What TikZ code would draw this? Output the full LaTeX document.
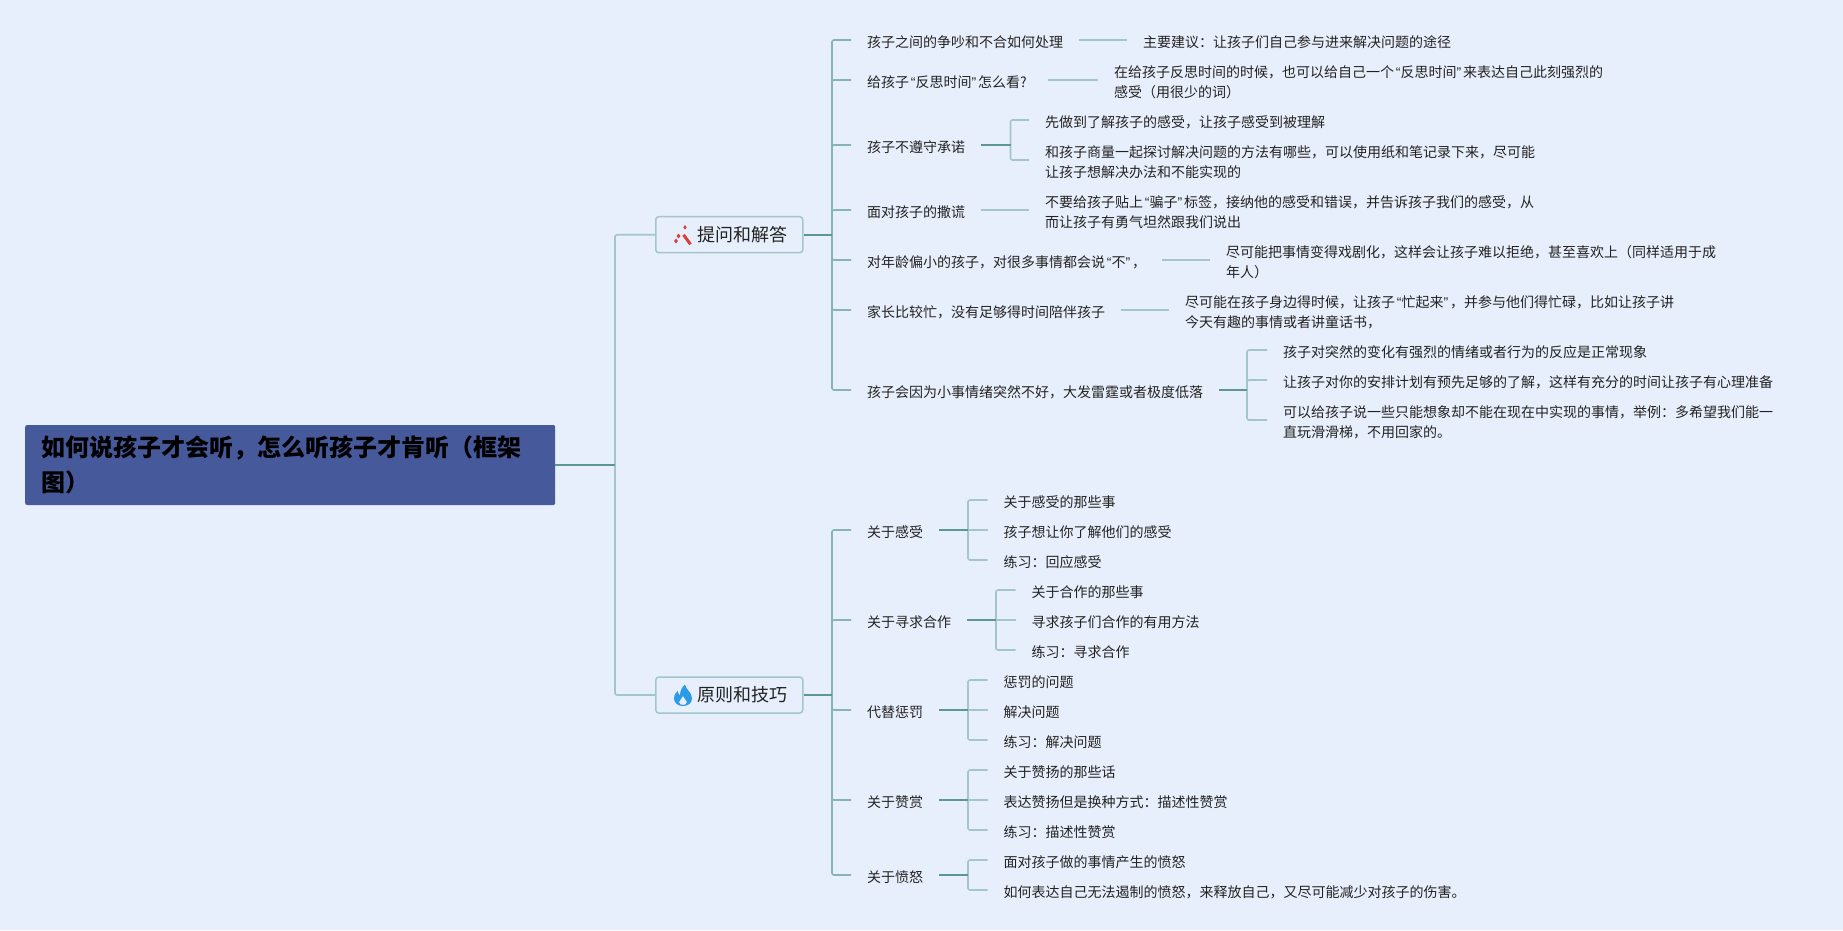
\documentclass[tikz,border=0pt]{standalone}
\usepackage{fontspec}
\setmainfont{Noto Sans CJK SC}
\newfontfamily\quotefont{Liberation Sans}
\newcommand{\opq}{\kern1.75pt{\quotefont “}}
\newcommand{\clq}{{\quotefont ”}\kern1.75pt}
\usepackage{xcolor}
\definecolor{pagebg}{HTML}{E8EFFC}
\definecolor{titlefill}{HTML}{46599A}
\definecolor{stemcol}{HTML}{5E9691}
\definecolor{boughcol}{HTML}{86B4B4}
\definecolor{twigcol}{HTML}{A3C6CA}
\definecolor{inkcol}{HTML}{222222}
\definecolor{wandred}{HTML}{D8403A}
\definecolor{flameblue}{HTML}{2B9BE8}
\tikzset{
    titlebox/.style={fill=titlefill, rounded corners=2pt, anchor=west, text width=498pt, align=left, inner xsep=16pt, inner ysep=0pt, minimum height=80pt, font=\fontsize{24}{35}\selectfont\bfseries, text=black},
    branchbox/.style={draw=twigcol, line width=1.5pt, fill=pagebg, rounded corners=3pt, anchor=west, text width=117pt, align=right, inner xsep=15pt, inner ysep=0pt, minimum height=36pt, font=\fontsize{18}{24}\selectfont, text=inkcol},
    leaf/.style={anchor=west, align=left, inner xsep=16pt, inner ysep=0pt, text height=14pt, text depth=0pt, font=\fontsize{14}{20}\selectfont, text=inkcol},
    leaflong/.style={leaf, text height=34pt},
    stem/.style={draw=stemcol, line width=2pt},
    bough/.style={draw=boughcol, line width=1.6pt, rounded corners=2pt},
    twig/.style={draw=twigcol, line width=1.6pt, rounded corners=2pt}
}
\begin{document}
\begin{tikzpicture}[x=1pt,y=-1pt]
    \useasboundingbox[fill=pagebg] (0,0) rectangle (1843,930);

    \node[titlebox] (title) at (25,465) {如何说孩子才会听，怎么听孩子才肯听（框架\\图）};
    \node[branchbox] (ask) at (655,234.7) {提问和解答};
    \node[branchbox] (rule) at (655,695) {原则和技巧};

    \fill[wandred] (682.3,235.7) -- (684.7,233.9) -- (691.7,243.4) -- (689.3,245.2) -- cycle; % wand
    \fill[wandred] (685,225) -- (686.7,227.3) -- (685,229.6) -- (683.3,227.3) -- cycle;
    \fill[wandred] (678.5,233.5) -- (680.4,236) -- (678.5,238.5) -- (676.6,236) -- cycle;
    \fill[wandred] (676,238.5) -- (677.9,241) -- (676,243.5) -- (674.1,241) -- cycle;
    \fill[flameblue, even odd rule] (685,684.5) .. controls (686,690) and (692,692) .. (692,698.5) .. controls (692,703) and (688,706) .. (683,706) .. controls (678,706) and (674,703) .. (674,698.5) .. controls (674,695) and (676,692.5) .. (677.5,691) .. controls (678,693) and (679,694.5) .. (680,695) .. controls (680,691) and (682,687) .. (685,684.5) -- cycle (683,696) .. controls (684,699) and (687,700) .. (687,702) .. controls (687,704) and (685,705) .. (683,705) .. controls (681,705) and (679,704) .. (679,702) .. controls (679,700) and (682,699) .. (683,696) -- cycle;

    % questions and what to do
    \node[leaf] (q1) at (851,40) {孩子之间的争吵和不合如何处理};
    \node[leaf] (a1) at (1127,40) {主要建议：让孩子们自己参与进来解决问题的途径};
    \node[leaf] (q2) at (851,80) {给孩子\opq 反思时间\clq 怎么看?\kern5pt};
    \node[leaflong] (a2) at (1098,80) {在给孩子反思时间的时候，也可以给自己一个\opq 反思时间\clq 来表达自己此刻强烈的\\感受（用很少的词）};
    \node[leaf] (q3) at (851,145) {孩子不遵守承诺};
    \node[leaf] (a3a) at (1029,120) {先做到了解孩子的感受，让孩子感受到被理解};
    \node[leaflong] (a3b) at (1029,160) {和孩子商量一起探讨解决问题的方法有哪些，可以使用纸和笔记录下来，尽可能\\让孩子想解决办法和不能实现的};
    \node[leaf] (q4) at (851,210) {面对孩子的撒谎};
    \node[leaflong] (a4) at (1029,210) {不要给孩子贴上\opq 骗子\clq 标签，接纳他的感受和错误，并告诉孩子我们的感受，从\\而让孩子有勇气坦然跟我们说出};
    \node[leaf] (q5) at (851,260) {对年龄偏小的孩子，对很多事情都会说\opq 不\clq ，};
    \node[leaflong] (a5) at (1210,260) {尽可能把事情变得戏剧化，这样会让孩子难以拒绝，甚至喜欢上（同样适用于成\\年人）};
    \node[leaf] (q6) at (851,310) {家长比较忙，没有足够得时间陪伴孩子};
    \node[leaflong] (a6) at (1169,310) {尽可能在孩子身边得时候，让孩子\opq 忙起来\clq ，并参与他们得忙碌，比如让孩子讲\\今天有趣的事情或者讲童话书，};
    \node[leaf] (q7) at (851,390) {孩子会因为小事情绪突然不好，大发雷霆或者极度低落};
    \node[leaf] (a7a) at (1267,350) {孩子对突然的变化有强烈的情绪或者行为的反应是正常现象};
    \node[leaf] (a7b) at (1267,380) {让孩子对你的安排计划有预先足够的了解，这样有充分的时间让孩子有心理准备};
    \node[leaflong] (a7c) at (1267,420) {可以给孩子说一些只能想象却不能在现在中实现的事情，举例：多希望我们能一\\直玩滑滑梯，不用回家的。};

    % principles
    \node[leaf] (p1) at (851,530) {关于感受};
    \node[leaf] (p1a) at (987.5,500) {关于感受的那些事};
    \node[leaf] (p1b) at (987.5,530) {孩子想让你了解他们的感受};
    \node[leaf] (p1c) at (987.5,560) {练习：回应感受};
    \node[leaf] (p2) at (851,620) {关于寻求合作};
    \node[leaf] (p2a) at (1015.5,590) {关于合作的那些事};
    \node[leaf] (p2b) at (1015.5,620) {寻求孩子们合作的有用方法};
    \node[leaf] (p2c) at (1015.5,650) {练习：寻求合作};
    \node[leaf] (p3) at (851,710) {代替惩罚};
    \node[leaf] (p3a) at (987.5,680) {惩罚的问题};
    \node[leaf] (p3b) at (987.5,710) {解决问题};
    \node[leaf] (p3c) at (987.5,740) {练习：解决问题};
    \node[leaf] (p4) at (851,800) {关于赞赏};
    \node[leaf] (p4a) at (987.5,770) {关于赞扬的那些话};
    \node[leaf] (p4b) at (987.5,800) {表达赞扬但是换种方式：描述性赞赏};
    \node[leaf] (p4c) at (987.5,830) {练习：描述性赞赏};
    \node[leaf] (p5) at (851,875) {关于愤怒};
    \node[leaf] (p5a) at (987.5,860) {面对孩子做的事情产生的愤怒};
    \node[leaf] (p5b) at (987.5,890) {如何表达自己无法遏制的愤怒，来释放自己，又尽可能减少对孩子的伤害。};

    \coordinate (jtitle) at (615,465);
    \coordinate (jask) at (832,234.7);
    \coordinate (jrule) at (832,695);
    \coordinate (jq3) at (1010.5,145);
    \coordinate (jq7) at (1247,390);
    \coordinate (jp1) at (968,530);
    \coordinate (jp2) at (996,620);
    \coordinate (jp3) at (968,710);
    \coordinate (jp4) at (968,800);
    \coordinate (jp5) at (968,875);

    \draw[twig] (jtitle) |- (ask.west);
    \draw[twig] (jtitle) |- (rule.west);
    \draw[bough] (jask) |- (q1.west);
    \draw[bough] (jask) |- (q2.west);
    \draw[bough] (jask) |- (q3.west);
    \draw[bough] (jask) |- (q4.west);
    \draw[bough] (jask) |- (q5.west);
    \draw[bough] (jask) |- (q6.west);
    \draw[bough] (jask) |- (q7.west);
    \draw[bough] (jrule) |- (p1.west);
    \draw[bough] (jrule) |- (p2.west);
    \draw[bough] (jrule) |- (p3.west);
    \draw[bough] (jrule) |- (p4.west);
    \draw[bough] (jrule) |- (p5.west);

    \draw[twig] (q1.east) -- (a1.west);
    \draw[twig] (q2.east) -- (a2.west);
    \draw[twig] (q4.east) -- (a4.west);
    \draw[twig] (q5.east) -- (a5.west);
    \draw[twig] (q6.east) -- (a6.west);
    \draw[twig] (jq3) |- (a3a.west);
    \draw[twig] (jq3) |- (a3b.west);
    \draw[twig] (jq7) |- (a7a.west);
    \draw[twig] (jq7) |- (a7b.west);
    \draw[twig] (jq7) |- (a7c.west);
    \draw[twig] (jp1) |- (p1a.west);
    \draw[twig] (jp1) -- (p1b.west);
    \draw[twig] (jp1) |- (p1c.west);
    \draw[twig] (jp2) |- (p2a.west);
    \draw[twig] (jp2) -- (p2b.west);
    \draw[twig] (jp2) |- (p2c.west);
    \draw[twig] (jp3) |- (p3a.west);
    \draw[twig] (jp3) -- (p3b.west);
    \draw[twig] (jp3) |- (p3c.west);
    \draw[twig] (jp4) |- (p4a.west);
    \draw[twig] (jp4) -- (p4b.west);
    \draw[twig] (jp4) |- (p4c.west);
    \draw[twig] (jp5) |- (p5a.west);
    \draw[twig] (jp5) |- (p5b.west);

    \draw[stem] (title.east) -- (jtitle);
    \draw[stem] (ask.east) -- (jask);
    \draw[stem] (rule.east) -- (jrule);
    \draw[stem] (q3.east) -- (jq3);
    \draw[stem] (q7.east) -- (jq7);
    \draw[stem] (p1.east) -- (jp1);
    \draw[stem] (p2.east) -- (jp2);
    \draw[stem] (p3.east) -- (jp3);
    \draw[stem] (p4.east) -- (jp4);
    \draw[stem] (p5.east) -- (jp5);
\end{tikzpicture}
\end{document}
